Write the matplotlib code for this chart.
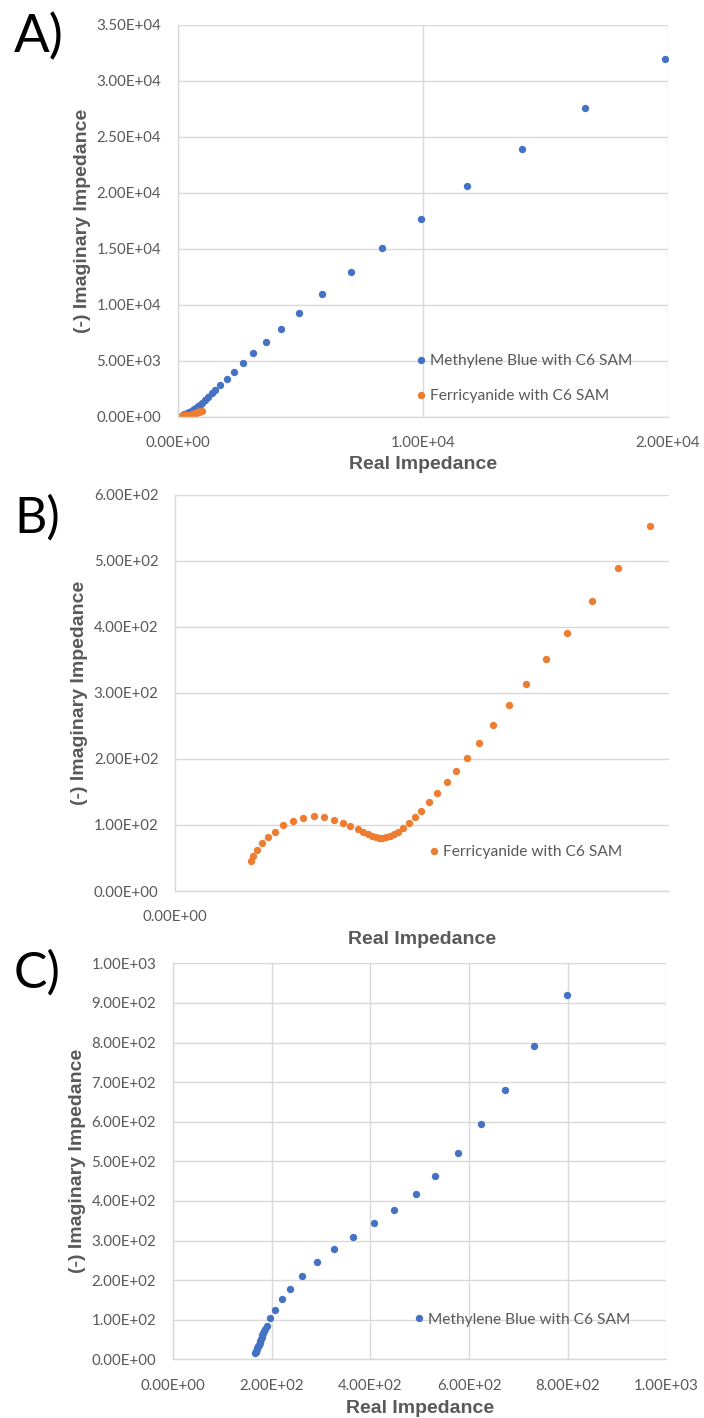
import matplotlib
matplotlib.use('Agg')
import matplotlib.pyplot as plt
from matplotlib.ticker import FuncFormatter, MultipleLocator

plt.rcParams['font.family'] = ['Lato', 'DejaVu Sans']

# Methylene Blue with C6 SAM (real, -imag) in ohm
mb_real = [167, 168, 169, 170, 171, 172.5, 174, 175.5, 177, 178.5, 180, 181.5, 183, 184.5, 186,
           190, 197, 207, 221, 237, 262, 293, 327, 365, 408, 449, 492, 532, 577, 624, 672, 732, 799,
           880, 975, 1085, 1215, 1374, 1510, 1714, 1986, 2272, 2639, 3075, 3592, 4204, 4952,
           5892, 7063, 8344, 9918, 11784, 14035, 16615, 19872]
mb_imag = [17, 19, 22, 25, 29, 33, 37, 41, 46, 51, 56, 61, 66, 71, 76,
           85, 104, 125, 152, 178, 210, 245, 278, 309, 343, 377, 418, 463, 522, 594, 679, 790, 920,
           1070, 1250, 1460, 1730, 2105, 2399, 2843, 3405, 3998, 4767, 5656, 6692, 7847, 9265,
           10962, 12957, 15102, 17664, 20583, 23919, 27613, 31962]

# Ferricyanide with C6 SAM
fc_real = [153, 158.6, 166.7, 176.8, 189, 203, 219, 239.5, 259.8, 280.7, 301.6, 321.9, 340, 355,
           369.8, 381, 390, 398, 406, 413.6, 420, 427, 434.6, 442.7, 452, 462, 473.7, 485.8,
           498.6, 514, 530, 550, 568.8, 590.5, 615.6, 644, 677, 710, 751, 793, 844, 896, 961.5]
fc_imag = [45, 52.5, 62, 72, 81, 90, 99.5, 106.5, 110.6, 113, 111.6, 108, 103.5, 99,
           93.4, 89, 86, 83.3, 81.8, 80.8, 80.8, 81.3, 83.3, 86.4, 90, 95.5, 102.5, 111.6,
           121.7, 134, 148, 164.7, 182, 202, 224.7, 251, 282, 314, 351.5, 391, 439, 489, 553]

BLUE = '#4472C4'
ORANGE = '#ED7D31'
GRID = '#d9d9d9'
TXT = '#595959'

fig = plt.figure(figsize=(7.04, 14.18), dpi=100)

axA = fig.add_axes([0.2528, 0.70614, 0.6960, 0.27623])
axB = fig.add_axes([0.2486, 0.37165, 0.7017, 0.27948])
axC = fig.add_axes([0.2456, 0.04139, 0.7010, 0.27927])

sci = FuncFormatter(lambda v, p: f'{v:.2E}')


def style(ax, xgrid=True):
    for s in ['top', 'right']:
        ax.spines[s].set_visible(False)
    for s in ['left', 'bottom']:
        ax.spines[s].set_color(GRID)
        ax.spines[s].set_linewidth(1)
    ax.tick_params(length=0, colors=TXT, labelsize=10.8)
    ax.tick_params(axis='y', pad=12)
    ax.tick_params(axis='x', pad=14)
    ax.xaxis.set_major_formatter(sci)
    ax.yaxis.set_major_formatter(sci)
    ax.grid(True, axis='y', color=GRID, lw=1)
    if xgrid:
        ax.grid(True, axis='x', color=GRID, lw=1)
    ax.set_axisbelow(True)
    ax.set_xlabel('Real Impedance', fontsize=14, fontweight='bold', color=TXT,
                  family=['Liberation Sans', 'DejaVu Sans'])
    ax.set_ylabel('(-) Imaginary Impedance', fontsize=14, fontweight='bold', color=TXT,
                  family=['Liberation Sans', 'DejaVu Sans'])
    ax.xaxis.label.set_va('center')
    ax.yaxis.label.set_va('center')
    ax.xaxis.set_label_coords(0.5, -0.123)
    ax.yaxis.set_label_coords(-0.194, 0.5)


mk = dict(ls='none', marker='o', ms=5.3, mew=0)
leg = dict(loc='center left', frameon=False, fontsize=11.2, handlelength=0.6,
           handletextpad=0.3, labelcolor=TXT)

# A
axA.plot(mb_real, mb_imag, color=BLUE, label='Methylene Blue with C6 SAM', **mk)
axA.plot(fc_real, fc_imag, color=ORANGE, label='Ferricyanide with C6 SAM', **mk)
axA.set_xlim(0, 20000)
axA.set_ylim(0, 35000)
axA.xaxis.set_major_locator(MultipleLocator(10000))
axA.yaxis.set_major_locator(MultipleLocator(5000))
style(axA)
axA.legend(bbox_to_anchor=(0.458, 0.097), labelspacing=1.35, **leg)

# B
axB.plot(fc_real, fc_imag, color=ORANGE, label='Ferricyanide with C6 SAM', **mk)
axB.set_xlim(0, 1000)
axB.set_ylim(0, 600)
axB.set_xticks([0])
axB.yaxis.set_major_locator(MultipleLocator(100))
style(axB, xgrid=False)
axB.legend(bbox_to_anchor=(0.486, 0.098), **leg)

# C
axC.plot(mb_real, mb_imag, color=BLUE, label='Methylene Blue with C6 SAM', **mk)
axC.set_xlim(0, 1000)
axC.set_ylim(0, 1000)
axC.xaxis.set_major_locator(MultipleLocator(200))
axC.yaxis.set_major_locator(MultipleLocator(100))
style(axC)
axC.legend(bbox_to_anchor=(0.46, 0.1), **leg)

# panel letters
for lab, yy, fs in [('A)', 0.9739, 38), ('B)', 0.6347, 36), ('C)', 0.3135, 36)]:
    fig.text(0.02, yy, lab, fontsize=fs, va='center', ha='left', color='black')

fig.savefig('out.png', dpi=100)
